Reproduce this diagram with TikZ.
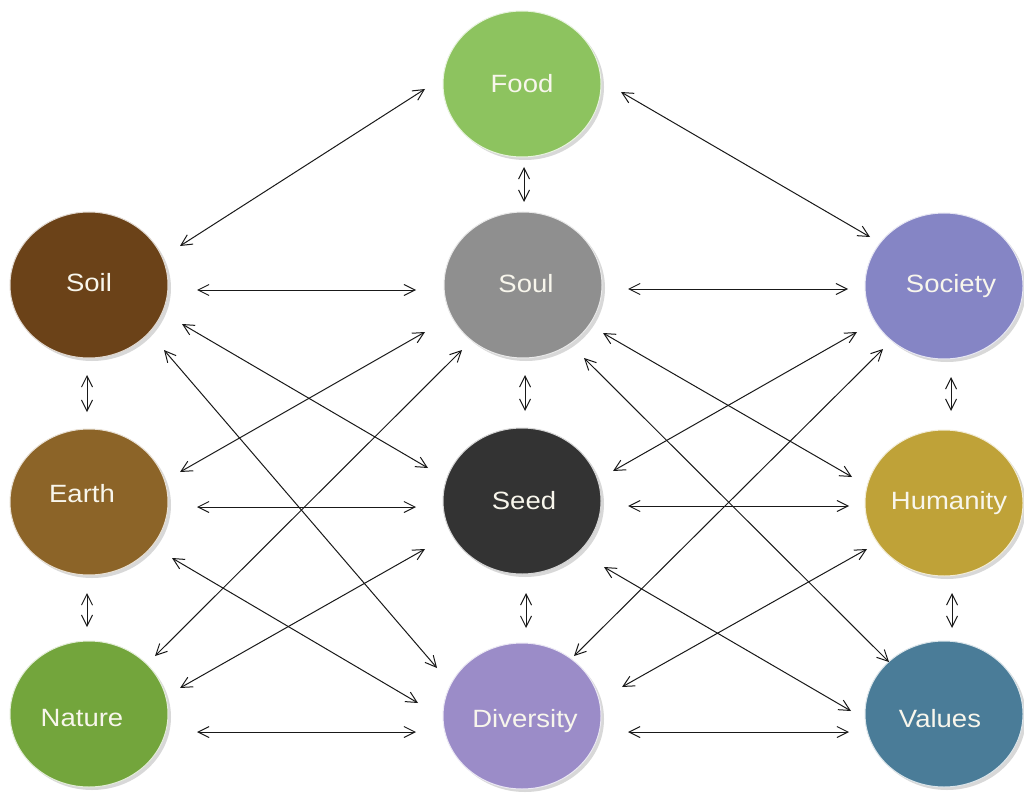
\documentclass[tikz,border=0pt]{standalone}
\usepackage{fontspec}
\setmainfont{Liberation Sans}
\usetikzlibrary{arrows.meta,shadows,shapes.geometric}
\definecolor{cFood}{HTML}{8DC35F}
\definecolor{cSoil}{HTML}{6B4218}
\definecolor{cSoul}{HTML}{8F8F8F}
\definecolor{cSociety}{HTML}{8585C5}
\definecolor{cEarth}{HTML}{8C6428}
\definecolor{cSeed}{HTML}{333333}
\definecolor{cHumanity}{HTML}{BFA238}
\definecolor{cNature}{HTML}{73A53C}
\definecolor{cDiversity}{HTML}{9B8CC8}
\definecolor{cValues}{HTML}{4A7C98}
\definecolor{cText}{HTML}{F8F6EC}
\newcommand\conn[4]{\draw[conn] ([shift={(#2)}]#1.center) -- ([shift={(#4)}]#3.center);}
\newcommand\wide[1]{\scalebox{1.1}[1]{#1}}
\begin{document}
\begin{tikzpicture}[x=1pt,y=-1pt,
  ball/.style={ellipse,minimum width=158pt,minimum height=146pt,inner sep=0pt,
    fill=#1,draw=white!80!#1,line width=1pt,
    drop shadow={shadow xshift=3pt,shadow yshift=-3pt,opacity=0.25,fill=black!60}},
  lbl/.style={text=cText,font=\fontsize{25}{28}\selectfont,text height=18pt,text depth=0pt,inner sep=0pt},
  conn/.style={line width=1pt,draw=black!90,{Straight Barb[length=11pt,width=11pt]}-{Straight Barb[length=11pt,width=11pt]}}
]
\useasboundingbox[fill=white] (0,0) rectangle (1024,794);
% nodes
\node[ball=cFood,label={[lbl]center:\wide{Food}}] (food) at (522,84) {};
\node[ball=cSoil,label={[lbl,yshift=3pt]center:\wide{Soil}}] (soil) at (89,285) {};
\node[ball=cSoul,label={[lbl,xshift=3pt,yshift=2pt]center:\wide{Soul}}] (soul) at (523,285) {};
\node[ball=cSociety,label={[lbl,xshift=7pt,yshift=3pt]center:\wide{Society}}] (society) at (944,286) {};
\node[ball=cEarth,label={[lbl,xshift=-7pt,yshift=9pt]center:\wide{Earth}}] (earth) at (89,502) {};
\node[ball=cSeed,label={[lbl,xshift=2pt,yshift=1pt]center:\wide{Seed}}] (seed) at (522,501) {};
\node[ball=cHumanity,label={[lbl,xshift=5pt,yshift=3pt]center:\wide{Humanity}}] (humanity) at (944,503) {};
\node[ball=cNature,label={[lbl,xshift=-7pt,yshift=-3pt]center:\wide{Nature}}] (nature) at (89,714) {};
\node[ball=cDiversity,label={[lbl,xshift=3pt,yshift=-2pt]center:\wide{Diversity}}] (diversity) at (522,716) {};
\node[ball=cValues,label={[lbl,xshift=-4pt,yshift=-4pt]center:\wide{Values}}] (values) at (944,714) {};
% connectors
\conn{food}{-97,5}{soil}{91,-39}
\conn{food}{99,8}{society}{-74,-49}
\conn{food}{2,83}{soul}{1,-83}
\conn{soil}{108,5}{soul}{-107,5}
\conn{soul}{105,4}{society}{-96,3}
\conn{soil}{-2,90}{earth}{-2,-90}
\conn{earth}{-2,91}{nature}{-2,-87}
\conn{soul}{2,90}{seed}{3,-90}
\conn{seed}{4,92}{diversity}{4,-88}
\conn{society}{7,91}{humanity}{7,-92}
\conn{humanity}{8,90}{values}{8,-86}
\conn{earth}{108,5}{seed}{-106,6}
\conn{seed}{106,5}{humanity}{-95,3}
\conn{nature}{108,18}{diversity}{-106,16}
\conn{diversity}{106,16}{values}{-95,18}
\conn{soil}{93,39}{seed}{-94,-33}
\conn{soil}{75,65}{diversity}{-85,-48}
\conn{earth}{91,-30}{soul}{-98,47}
\conn{earth}{83,56}{diversity}{-104,-13}
\conn{nature}{66,-58}{soul}{-61,65}
\conn{nature}{91,-26}{seed}{-97,48}
\conn{soul}{80,48}{humanity}{-92,-26}
\conn{soul}{61,73}{values}{-55,-52}
\conn{society}{-87,46}{seed}{91,-30}
\conn{society}{-61,63}{diversity}{52,-60}
\conn{humanity}{-77,46}{diversity}{100,-29}
\conn{seed}{82,66}{values}{-93,-3}
\end{tikzpicture}
\end{document}
